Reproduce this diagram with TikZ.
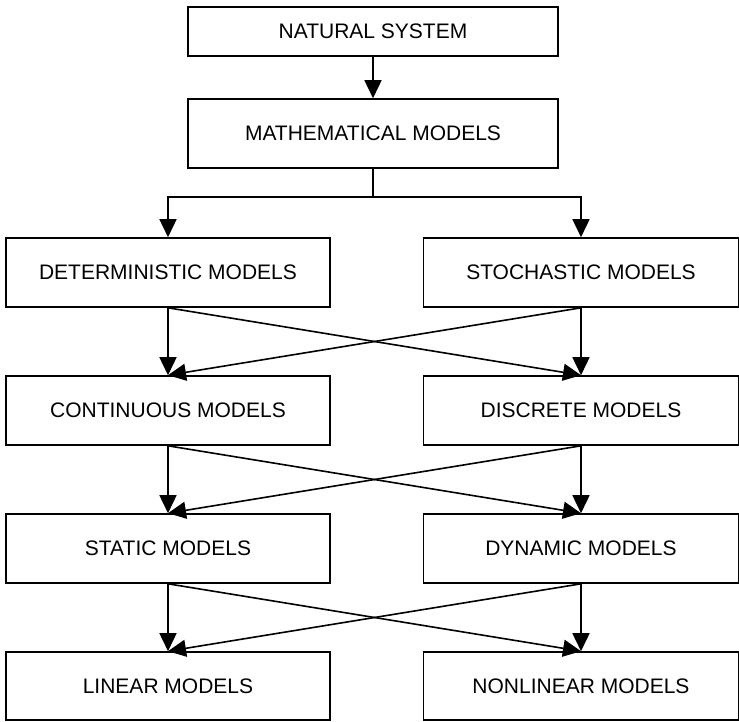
\documentclass[tikz,border=0pt]{standalone}
\usepackage{fontspec}
\setmainfont{Liberation Sans}
\usepackage{tikz}
\usetikzlibrary{positioning, arrows.meta, calc}

\begin{document}
\begin{tikzpicture}[x=1pt, y=1pt,
    box/.style={draw, line width=1.6pt, inner sep=0pt, font=\fontsize{21}{25}\selectfont},
    leftbox/.style={box, minimum width=324pt, minimum height=69pt},
    rightbox/.style={box, minimum width=315pt, minimum height=69pt},
    arr/.style={line width=1.6pt, -{Triangle[length=18pt, width=17pt]}}]
            \useasboundingbox (0,0) rectangle (739,-721);

            % Top boxes
            \node[box, minimum width=370pt, minimum height=49pt] (natural) at (373,-31.5) {NATURAL SYSTEM};
            \node[box, minimum width=370pt, minimum height=69pt] (math) at (373,-133.5) {MATHEMATICAL MODELS};
            \coordinate (split) at (373,-197);

            % Left column
            \node[leftbox] (determ) at (168,-272.5) {DETERMINISTIC MODELS};
            \node[leftbox] (contin) at (168,-410.5) {CONTINUOUS MODELS};
            \node[leftbox] (static) at (168,-548.5) {STATIC MODELS};
            \node[leftbox, minimum height=68pt] (linear) at (168,-686) {LINEAR MODELS};

            % Right column
            \node[rightbox] (stoch) at (581,-272.5) {STOCHASTIC MODELS};
            \node[rightbox] (discr) at (581,-410.5) {DISCRETE MODELS};
            \node[rightbox] (dynam) at (581,-548.5) {DYNAMIC MODELS};
            \node[rightbox, minimum height=68pt] (nonlin) at (581,-686) {NONLINEAR MODELS};

            % Connectors
            \draw[arr] (natural) -- (math);
            \draw[line width=1.6pt] (math) -- (split);
            \draw[arr] (split) -| (determ);
            \draw[arr] (split) -| (stoch);

            \draw[arr] (determ.south) -- (contin.north);
            \draw[arr] (determ.south) -- (discr.north);
            \draw[arr] (stoch.south) -- (discr.north);
            \draw[arr] (stoch.south) -- (contin.north);

            \draw[arr] (contin.south) -- (static.north);
            \draw[arr] (contin.south) -- (dynam.north);
            \draw[arr] (discr.south) -- (dynam.north);
            \draw[arr] (discr.south) -- (static.north);

            \draw[arr] (static.south) -- (linear.north);
            \draw[arr] (static.south) -- (nonlin.north);
            \draw[arr] (dynam.south) -- (nonlin.north);
            \draw[arr] (dynam.south) -- (linear.north);
\end{tikzpicture}
\end{document}
